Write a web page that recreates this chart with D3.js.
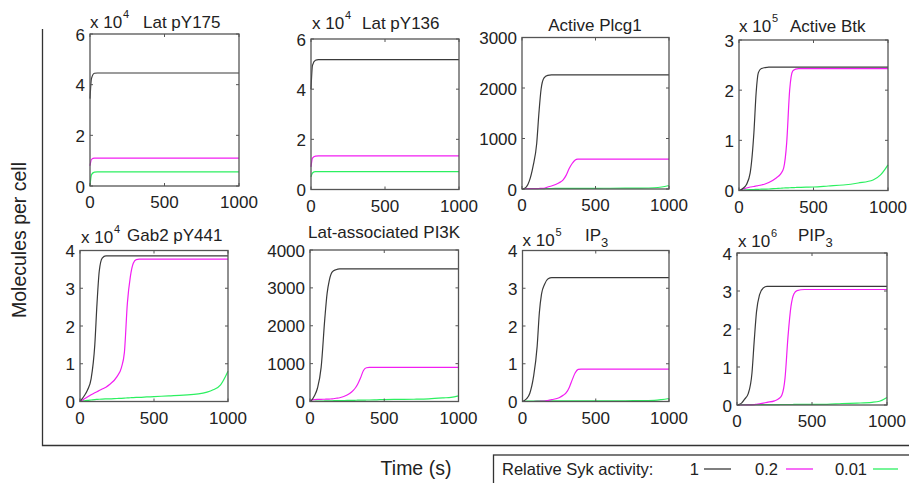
<!DOCTYPE html>
<html lang="en">
<head>
  <meta charset="UTF-8">
  <title>Syk activity simulations</title>
  <script src="https://d3js.org/d3.v7.min.js"></script>
  <style>
    body { margin: 0; background: #fff; }
    text { font-family: "Liberation Sans", Arial, Helvetica, sans-serif; fill: #222; }
    .frame { fill: none; stroke: #555; stroke-width: 1.3px; }
    .tick { stroke: #555; stroke-width: 1px; }
    .curve { fill: none; stroke-width: 1.2px; }
  </style>
</head>
<body>
<script>
// time points (s), shared by all panels
const time = [0, 10, 30, 50, 75, 100, 115, 130, 150, 175, 200, 250, 280, 300, 320, 340, 360, 380, 400, 450, 500, 600, 700, 800, 900, 950, 1000];

// series per panel: Syk 1, 0.2, 0.01 (values in displayed units)
const lat175_1 = [3.45, 4.25, 4.45, 4.46, 4.46, 4.46, 4.46, 4.46, 4.46, 4.46, 4.46, 4.46, 4.46, 4.46, 4.46, 4.46, 4.46, 4.46, 4.46, 4.46, 4.46, 4.46, 4.46, 4.46, 4.46, 4.46, 4.46];
const lat175_02 = [0.8, 1.05, 1.1, 1.1, 1.1, 1.1, 1.1, 1.1, 1.1, 1.1, 1.1, 1.1, 1.1, 1.1, 1.1, 1.1, 1.1, 1.1, 1.1, 1.1, 1.1, 1.1, 1.1, 1.1, 1.1, 1.1, 1.1];
const lat175_001 = [0, 0.45, 0.55, 0.56, 0.56, 0.56, 0.56, 0.56, 0.56, 0.56, 0.56, 0.56, 0.56, 0.56, 0.56, 0.56, 0.56, 0.56, 0.56, 0.56, 0.56, 0.56, 0.56, 0.56, 0.56, 0.56, 0.56];

const lat136_1 = [4.0, 4.95, 5.15, 5.18, 5.18, 5.18, 5.18, 5.18, 5.18, 5.18, 5.18, 5.18, 5.18, 5.18, 5.18, 5.18, 5.18, 5.18, 5.18, 5.18, 5.18, 5.18, 5.18, 5.18, 5.18, 5.18, 5.18];
const lat136_02 = [0.9, 1.25, 1.33, 1.34, 1.34, 1.34, 1.34, 1.34, 1.34, 1.34, 1.34, 1.34, 1.34, 1.34, 1.34, 1.34, 1.34, 1.34, 1.34, 1.34, 1.34, 1.34, 1.34, 1.34, 1.34, 1.34, 1.34];
const lat136_001 = [0.5, 0.66, 0.71, 0.71, 0.71, 0.71, 0.71, 0.71, 0.71, 0.71, 0.71, 0.71, 0.71, 0.71, 0.71, 0.71, 0.71, 0.71, 0.71, 0.71, 0.71, 0.71, 0.71, 0.71, 0.71, 0.71, 0.71];

const plcg1_1 = [0, 5, 40, 160, 450, 900, 1500, 1980, 2200, 2250, 2260, 2260, 2260, 2260, 2260, 2260, 2260, 2260, 2260, 2260, 2260, 2260, 2260, 2260, 2260, 2260, 2260];
const plcg1_02 = [5, 5, 5, 6, 7, 8, 10, 12, 15, 40, 60, 120, 180, 270, 400, 500, 570, 590, 592, 592, 592, 592, 592, 592, 592, 592, 592];
const plcg1_001 = [0, 3, 5, 6, 7, 8, 8, 9, 9, 10, 10, 11, 11, 12, 12, 12, 12, 13, 13, 13, 14, 15, 16, 18, 25, 40, 70];

const btk_1 = [0, 0.01, 0.05, 0.12, 0.35, 1.15, 1.95, 2.35, 2.43, 2.45, 2.46, 2.46, 2.46, 2.46, 2.46, 2.46, 2.46, 2.46, 2.46, 2.46, 2.46, 2.46, 2.46, 2.46, 2.46, 2.46, 2.46];
const btk_02 = [0, 0.01, 0.03, 0.05, 0.07, 0.08, 0.09, 0.1, 0.11, 0.13, 0.16, 0.25, 0.33, 0.45, 0.95, 2.0, 2.38, 2.42, 2.43, 2.43, 2.43, 2.43, 2.43, 2.43, 2.43, 2.43, 2.43];
const btk_001 = [0, 0.005, 0.01, 0.015, 0.018, 0.02, 0.022, 0.024, 0.026, 0.028, 0.03, 0.04, 0.045, 0.05, 0.052, 0.055, 0.057, 0.06, 0.062, 0.066, 0.07, 0.09, 0.11, 0.15, 0.21, 0.31, 0.51];

const gab2_1 = [0, 0.05, 0.16, 0.3, 0.6, 1.5, 2.6, 3.45, 3.8, 3.86, 3.86, 3.86, 3.86, 3.86, 3.86, 3.86, 3.86, 3.86, 3.86, 3.86, 3.86, 3.86, 3.86, 3.86, 3.86, 3.86, 3.86];
const gab2_02 = [0, 0.02, 0.07, 0.12, 0.18, 0.23, 0.26, 0.29, 0.33, 0.38, 0.45, 0.66, 0.9, 1.3, 2.6, 3.3, 3.66, 3.76, 3.77, 3.77, 3.77, 3.77, 3.77, 3.77, 3.77, 3.77, 3.77];
const gab2_001 = [0, 0.01, 0.02, 0.03, 0.04, 0.05, 0.055, 0.06, 0.065, 0.068, 0.07, 0.08, 0.085, 0.09, 0.095, 0.1, 0.105, 0.108, 0.11, 0.12, 0.13, 0.15, 0.17, 0.2, 0.31, 0.44, 0.8];

const pi3k_1 = [0, 30, 150, 350, 900, 2200, 2850, 3200, 3420, 3480, 3500, 3500, 3500, 3500, 3500, 3500, 3500, 3500, 3500, 3500, 3500, 3500, 3500, 3500, 3500, 3500, 3500];
const pi3k_02 = [20, 40, 50, 55, 58, 60, 62, 65, 70, 85, 100, 170, 250, 330, 450, 620, 820, 890, 900, 900, 900, 900, 900, 900, 900, 900, 900];
const pi3k_001 = [0, 3, 6, 10, 12, 14, 16, 18, 20, 22, 25, 28, 30, 32, 34, 36, 38, 39, 40, 45, 50, 55, 60, 70, 95, 110, 150];

const ip3_1 = [0, 0.02, 0.08, 0.22, 0.65, 1.46, 2.35, 2.85, 3.1, 3.25, 3.28, 3.28, 3.28, 3.28, 3.28, 3.28, 3.28, 3.28, 3.28, 3.28, 3.28, 3.28, 3.28, 3.28, 3.28, 3.28, 3.28];
const ip3_02 = [0, 0, 0, 0, 0, 0.005, 0.007, 0.01, 0.01, 0.03, 0.05, 0.1, 0.17, 0.24, 0.38, 0.58, 0.76, 0.85, 0.86, 0.86, 0.86, 0.86, 0.86, 0.86, 0.86, 0.86, 0.86];
const ip3_001 = [0, 0.005, 0.01, 0.012, 0.013, 0.014, 0.015, 0.015, 0.015, 0.015, 0.016, 0.016, 0.016, 0.017, 0.017, 0.017, 0.017, 0.018, 0.018, 0.018, 0.019, 0.02, 0.02, 0.022, 0.03, 0.05, 0.08];

const pip3_1 = [0, 0.01, 0.05, 0.15, 0.3, 0.85, 1.7, 2.45, 2.9, 3.08, 3.12, 3.12, 3.12, 3.12, 3.12, 3.12, 3.12, 3.12, 3.12, 3.12, 3.12, 3.12, 3.12, 3.12, 3.12, 3.12, 3.12];
const pip3_02 = [0, 0, 0, 0, 0.003, 0.005, 0.01, 0.02, 0.03, 0.05, 0.07, 0.11, 0.17, 0.27, 0.7, 1.8, 2.6, 2.93, 3.01, 3.04, 3.04, 3.04, 3.04, 3.04, 3.04, 3.04, 3.04];
const pip3_001 = [0, 0.005, 0.008, 0.01, 0.01, 0.01, 0.01, 0.01, 0.011, 0.011, 0.012, 0.012, 0.012, 0.013, 0.013, 0.013, 0.013, 0.014, 0.014, 0.015, 0.016, 0.018, 0.04, 0.05, 0.07, 0.1, 0.2];

// panel labels and axes
const titles = ["Lat pY175", "Lat pY136", "Active Plcg1", "Active Btk", "Gab2 pY441", "Lat-associated PI3K", "IP", "PIP"];
const titleSubs = ["", "", "", "", "", "", "3", "3"];
const exponents = ["4", "4", "", "5", "4", "", "5", "6"];
const yMax = [6, 6, 3000, 3, 4, 4000, 4, 4];
const yTicks = [[0, 2, 4, 6], [0, 2, 4, 6], [0, 1000, 2000, 3000], [0, 1, 2, 3], [0, 1, 2, 3, 4], [0, 1000, 2000, 3000, 4000], [0, 1, 2, 3, 4], [0, 1, 2, 3, 4]];
const xTicks = [0, 500, 1000];
const series = [
  [lat175_1, lat175_02, lat175_001],
  [lat136_1, lat136_02, lat136_001],
  [plcg1_1, plcg1_02, plcg1_001],
  [btk_1, btk_02, btk_001],
  [gab2_1, gab2_02, gab2_001],
  [pi3k_1, pi3k_02, pi3k_001],
  [ip3_1, ip3_02, ip3_001],
  [pip3_1, pip3_02, pip3_001]
];
const sykLevels = ["1", "0.2", "0.01"];
const colors = ["#3a3a3a", "#f21ef2", "#2cf060"];

// layout: frame boxes and label anchors
const boxes = [
  { x0: 90, x1: 239, y0: 34, y1: 186, ex: 90, ey: 28, tx: 143, ty: 28, anchor: "start" },
  { x0: 311, x1: 459, y0: 39, y1: 189.5, ex: 312, ey: 29, tx: 362, ty: 29, anchor: "start" },
  { x0: 522, x1: 669, y0: 37.5, y1: 189, ex: 0, ey: 0, tx: 595, ty: 31, anchor: "middle" },
  { x0: 739, x1: 888, y0: 40, y1: 190.5, ex: 739, ey: 32, tx: 790, ty: 32, anchor: "start" },
  { x0: 80, x1: 228, y0: 250.5, y1: 401.5, ex: 81, ey: 243, tx: 127, ty: 241, anchor: "start" },
  { x0: 310, x1: 458.5, y0: 250, y1: 401.5, ex: 0, ey: 0, tx: 308, ty: 238, anchor: "start" },
  { x0: 522.5, x1: 669, y0: 250.5, y1: 401.5, ex: 522.5, ey: 246, tx: 585, ty: 241, anchor: "start" },
  { x0: 737, x1: 887, y0: 253, y1: 405, ex: 738, ey: 247, tx: 798, ty: 241, anchor: "start" }
];

const W = 909, H = 483;
const svg = d3.select("body").append("svg")
  .attr("width", W)
  .attr("height", H);

// outer L frame
svg.append("path")
  .attr("d", "M42.5,29 V445.5 H909")
  .attr("fill", "none")
  .attr("stroke", "#333")
  .attr("stroke-width", 1.3);

svg.append("text")
  .attr("transform", "translate(26,240) rotate(-90)")
  .attr("text-anchor", "middle")
  .style("font-size", "19.5px")
  .text("Molecules per cell");

svg.append("text")
  .attr("x", 416)
  .attr("y", 475)
  .attr("text-anchor", "middle")
  .style("font-size", "19.5px")
  .text("Time (s)");

boxes.forEach((b, i) => {
  const x = d3.scaleLinear().domain([0, 1000]).range([b.x0, b.x1]);
  const y = d3.scaleLinear().domain([0, yMax[i]]).range([b.y1, b.y0]);
  const g = svg.append("g");

  const line = d3.line()
    .x((d, k) => x(time[k]))
    .y(d => y(d))
    .curve(d3.curveMonotoneX);

  // draw low activity first so black sits on top
  [2, 1, 0].forEach(s => {
    g.append("path")
      .attr("class", "curve")
      .attr("stroke", colors[s])
      .attr("d", line(series[i][s]));
  });

  g.append("rect")
    .attr("class", "frame")
    .attr("x", b.x0).attr("y", b.y0)
    .attr("width", b.x1 - b.x0).attr("height", b.y1 - b.y0);

  // inward ticks on all four sides
  yTicks[i].forEach(v => {
    g.append("line").attr("class", "tick")
      .attr("x1", b.x0).attr("x2", b.x0 + 3).attr("y1", y(v)).attr("y2", y(v));
    g.append("line").attr("class", "tick")
      .attr("x1", b.x1).attr("x2", b.x1 - 3).attr("y1", y(v)).attr("y2", y(v));
    g.append("text")
      .attr("x", b.x0 - 5)
      .attr("y", y(v) + 1)
      .attr("text-anchor", "end")
      .attr("dominant-baseline", "central")
      .style("font-size", "17px")
      .text(v);
  });
  xTicks.forEach(v => {
    g.append("line").attr("class", "tick")
      .attr("x1", x(v)).attr("x2", x(v)).attr("y1", b.y1).attr("y2", b.y1 - 3);
    g.append("line").attr("class", "tick")
      .attr("x1", x(v)).attr("x2", x(v)).attr("y1", b.y0).attr("y2", b.y0 + 3);
    g.append("text")
      .attr("x", x(v))
      .attr("y", b.y1 + 22)
      .attr("text-anchor", "middle")
      .style("font-size", "17px")
      .text(v);
  });

  if (exponents[i]) {
    g.append("text")
      .attr("x", b.ex).attr("y", b.ey)
      .style("font-size", "17px")
      .text("x 10");
    g.append("text")
      .attr("x", b.ex + 33).attr("y", b.ey - 10)
      .style("font-size", "11px")
      .text(exponents[i]);
  }

  const t = g.append("text")
    .attr("x", b.tx).attr("y", b.ty)
    .attr("text-anchor", b.anchor)
    .style("font-size", "17px")
    .text(titles[i]);
  if (titleSubs[i]) {
    t.append("tspan")
      .attr("dy", 6)
      .style("font-size", "13px")
      .text(titleSubs[i]);
  }
});

// legend
svg.append("rect")
  .attr("x", 493.5).attr("y", 455)
  .attr("width", 430).attr("height", 40)
  .attr("fill", "none")
  .attr("stroke", "#333")
  .attr("stroke-width", 1.3);

svg.append("text")
  .attr("x", 502).attr("y", 475)
  .style("font-size", "16.5px")
  .text("Relative Syk activity:");

const legX = [[699, 704, 731], [778, 786, 813], [867, 873, 898]];
sykLevels.forEach((lv, s) => {
  svg.append("text")
    .attr("x", legX[s][0]).attr("y", 475)
    .attr("text-anchor", "end")
    .style("font-size", "16.5px")
    .text(lv);
  svg.append("line")
    .attr("x1", legX[s][1]).attr("x2", legX[s][2])
    .attr("y1", 469).attr("y2", 469)
    .attr("stroke", colors[s])
    .attr("stroke-width", 1.3);
});
</script>
</body>
</html>
